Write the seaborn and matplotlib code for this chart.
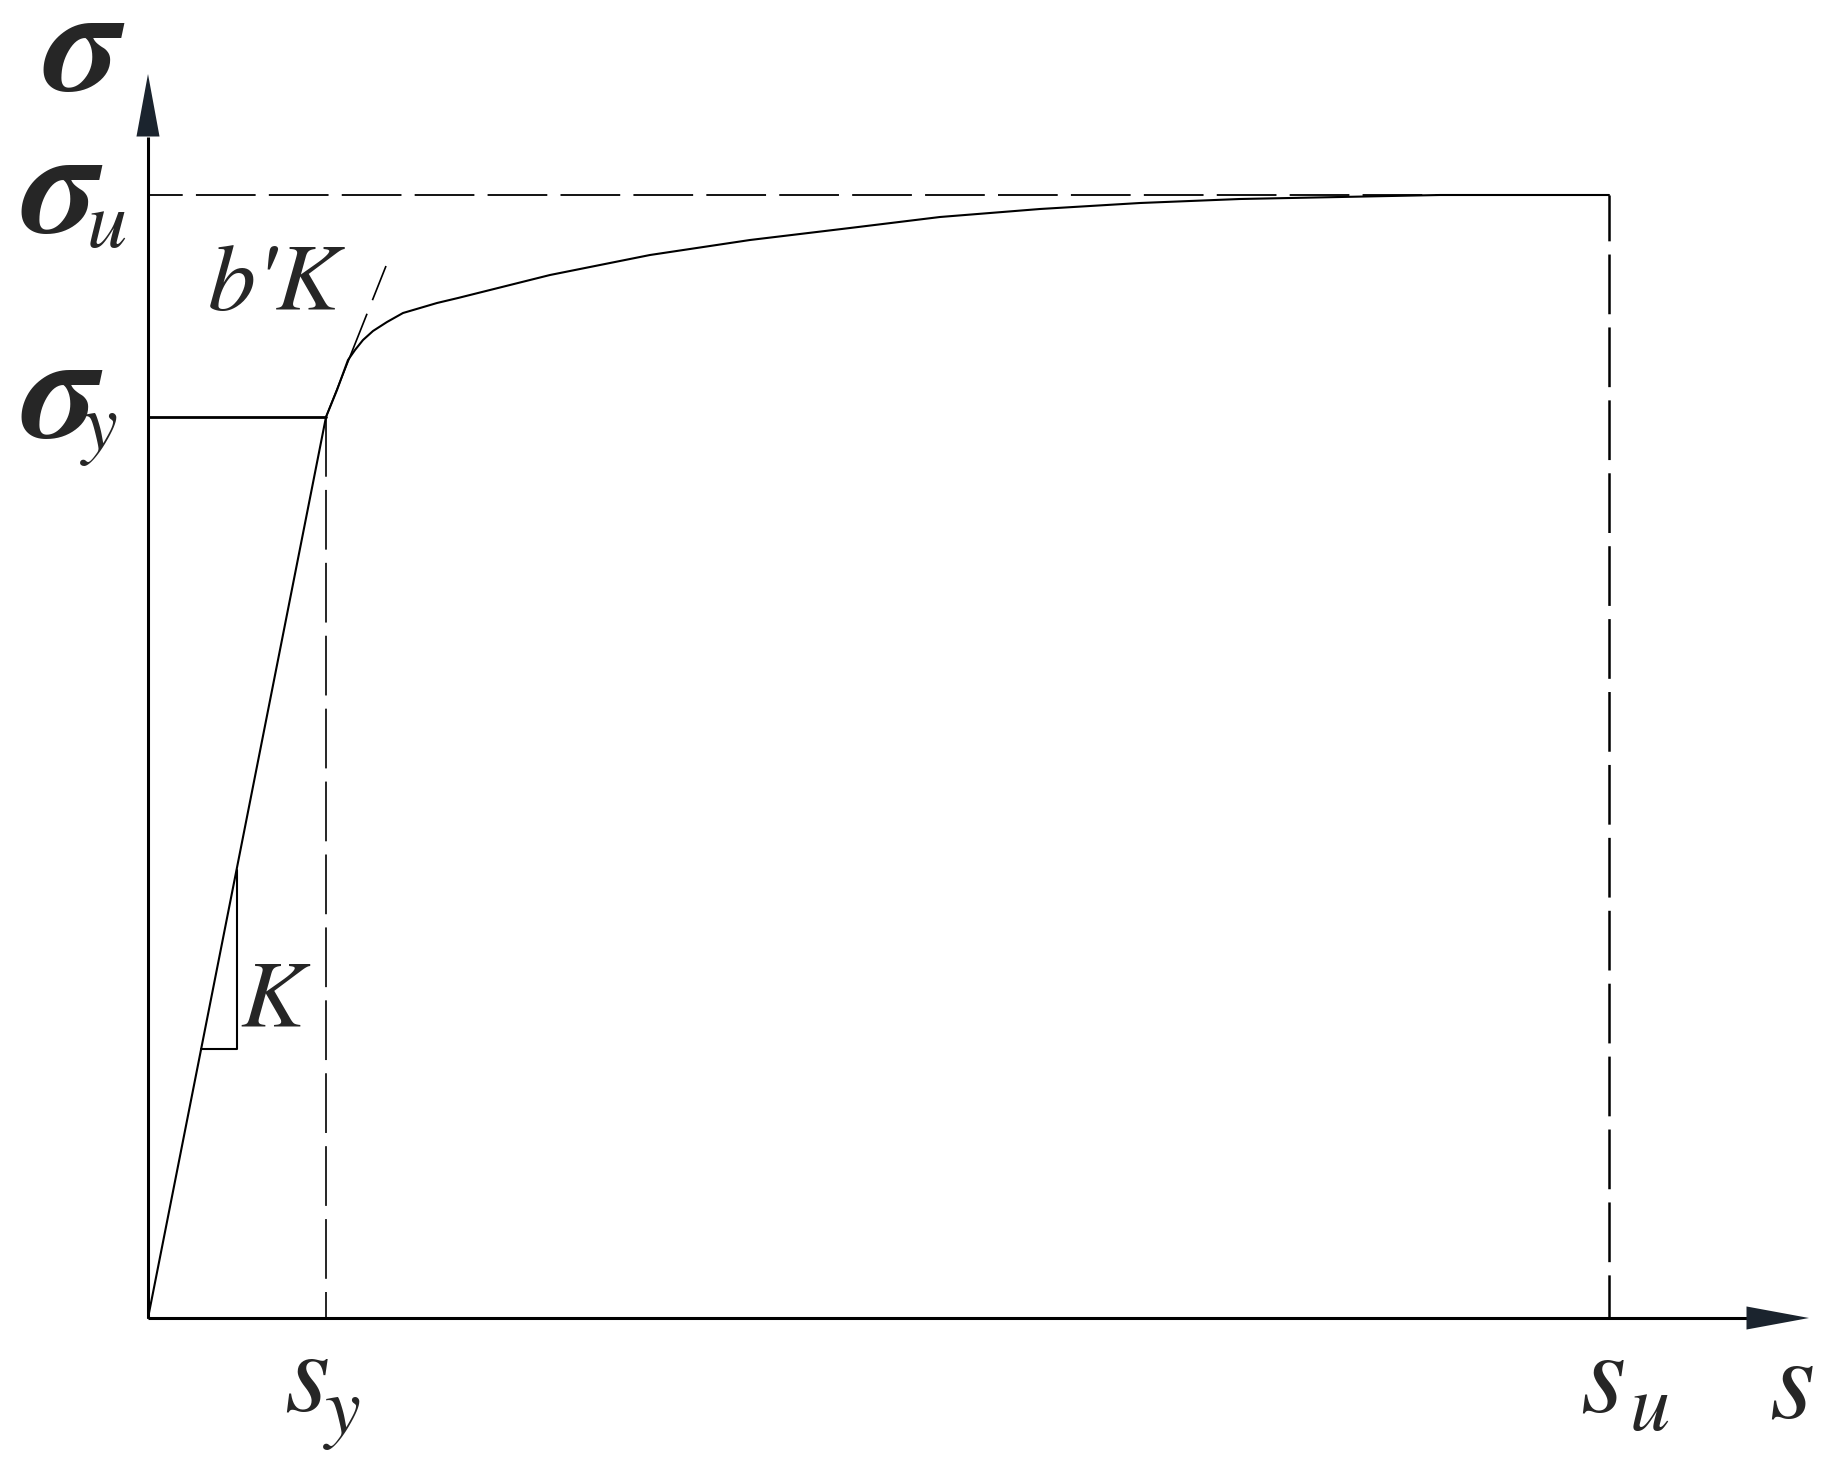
import numpy as np
import pandas as pd
import matplotlib
matplotlib.use("Agg")
import matplotlib.pyplot as plt
import seaborn as sns

# key points of the bond-slip law (1 unit = 100 px of the drawing)
s_y = 1.78
s_u = 14.61
sigma_y = 9.01
sigma_u = 11.23

# hardening branch
curve_s = [1.78, 1.89, 2.00, 2.07, 2.15, 2.25, 2.39, 2.55, 2.72, 2.89, 3.10,
           4.02, 5.02, 6.02, 7.02, 7.92, 8.92, 9.92, 10.92, 11.92, 12.92, 14.61]
curve_sigma = [9.01, 9.28, 9.58, 9.68, 9.78, 9.87, 9.96, 10.05, 10.10, 10.15, 10.20,
               10.43, 10.63, 10.78, 10.90, 11.01, 11.09, 11.15, 11.19, 11.21, 11.23, 11.23]

# tangent b'K drawn from the yield point
tangent_s = [1.78, 2.38]
tangent_sigma = [9.01, 10.52]

# slope triangle for K
tri_s = [0.53, 0.89, 0.89]
tri_sigma = [2.69, 2.69, 4.48]

W, H = 1832, 1462
X0, Y0 = 148, 1318


def px(x, y):
    # pixel position of the drawing -> data coords
    return (x - X0) / 100.0, (Y0 - y) / 100.0


sns.set_style("white")
plt.rcParams["lines.scale_dashes"] = False
plt.rcParams["font.family"] = ["STIXGeneral", "DejaVu Serif"]

fig = plt.figure(figsize=(W / 100, H / 100), dpi=100)
ax = fig.add_axes([0, 0, 1, 1])
ax.set_xlim(-X0 / 100.0, (W - X0) / 100.0)
ax.set_ylim(-(H - Y0) / 100.0, Y0 / 100.0)
ax.axis("off")

ink = "black"

# axes with arrow heads
ax.plot([0, 0], [0, px(0, 137)[1]], color=ink, lw=2.2, solid_capstyle="butt")
ax.plot([0, px(1747, 0)[0]], [0, 0], color=ink, lw=2.2, solid_capstyle="butt")
arrow = dict(arrowstyle="-|>,head_length=45,head_width=8.3", mutation_scale=1,
             color="#1b242e", lw=0, shrinkA=0, shrinkB=0)
ax.annotate("", xy=px(148, 74), xytext=px(148, 137), arrowprops=arrow)
ax.annotate("", xy=px(1809, 1318), xytext=px(1747, 1318), arrowprops=arrow)

# guide lines
ax.plot([0, s_y], [sigma_y, sigma_y], color=ink, lw=2.0)
ax.plot([s_y, s_y], [sigma_y, 0], color=ink, lw=1.2, linestyle=(0, (43, 9.5)))
ax.plot([0, s_u], [sigma_u, sigma_u], color=ink, lw=1.3, linestyle=(18, (43, 9.5)))
ax.plot([s_u, s_u], [sigma_u, 0], color=ink, lw=1.8, linestyle=(10, (43, 9.5)))
ax.plot(tangent_s, tangent_sigma, color=ink, lw=1.2, linestyle=(0, (80, 10.5)))

# elastic branch and hardening branch
elastic = pd.DataFrame({"s": [0, s_y], "sigma": [0, sigma_y]})
hard = pd.DataFrame({"s": curve_s, "sigma": curve_sigma})
sns.lineplot(data=elastic, x="s", y="sigma", color=ink, lw=1.5, sort=False, ax=ax)
sns.lineplot(data=hard, x="s", y="sigma", color=ink, lw=1.5, sort=False, ax=ax)
ax.plot(tri_s, tri_sigma, color=ink, lw=1.5)

# labels
greek = dict(family=["STIXGeneral", "DejaVu Serif"], weight="bold", style="italic",
             va="baseline", ha="left")
ital = dict(family=["STIXGeneral", "DejaVu Serif"], style="italic", va="baseline", ha="left")

ax.text(*px(43, 90), "σ", fontsize=108, **greek)
ax.text(*px(21, 232), "σ", fontsize=108, **greek)
ax.text(*px(87, 247), "u", fontsize=58, **ital)
ax.text(*px(21, 437), "σ", fontsize=108, **greek)
ax.text(*px(82, 449), "y", fontsize=58, **ital)
ax.text(*px(208, 310), "b'K", fontsize=69, **ital)
ax.text(*px(240, 1026), "K", fontsize=69, **ital)
ax.text(*px(284, 1411), "s", fontsize=84, **ital)
ax.text(*px(325, 1433), "y", fontsize=58, **ital)
ax.text(*px(1580, 1412), "s", fontsize=84, **ital)
ax.text(*px(1630, 1430), "u", fontsize=58, **ital)
ax.text(*px(1769, 1418), "s", fontsize=84, **ital)

fig.savefig("out.png", dpi=100, facecolor="white")
